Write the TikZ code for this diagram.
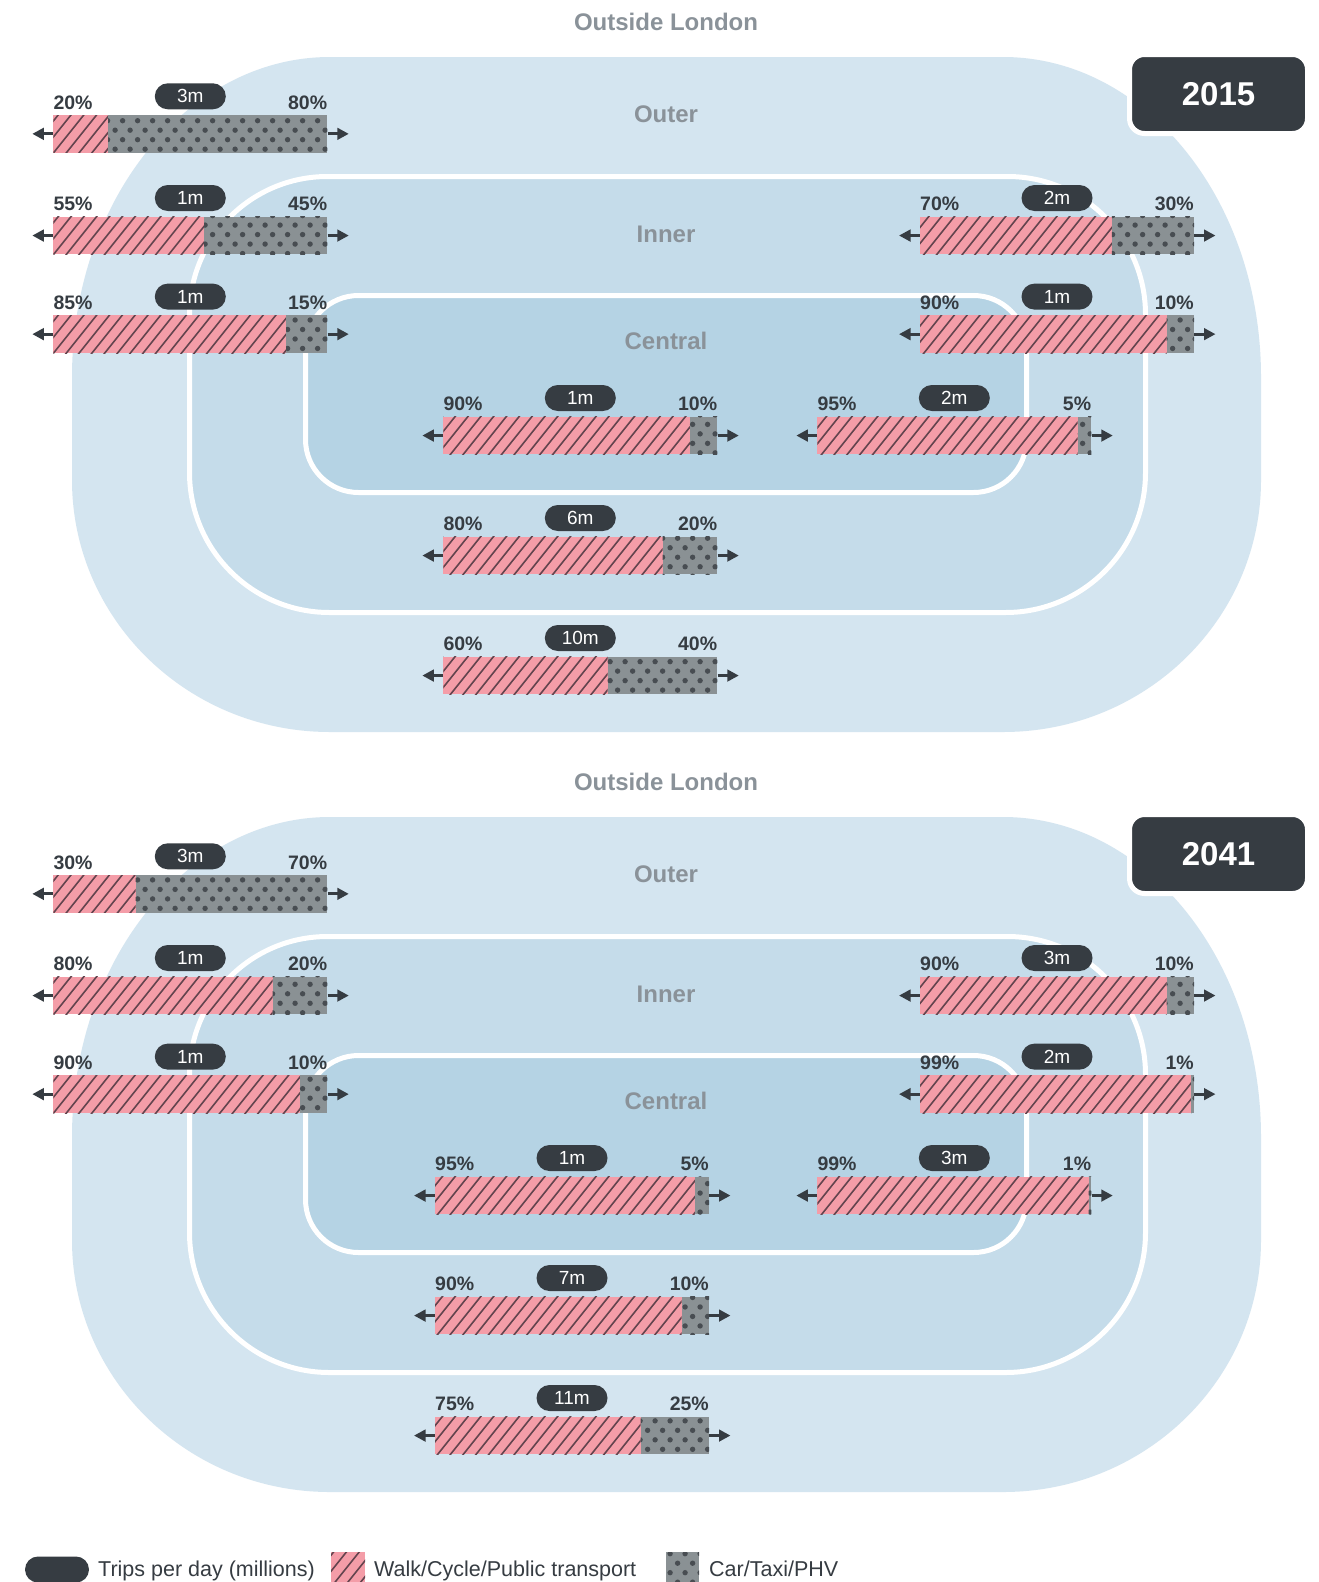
\documentclass[tikz,border=0pt]{standalone}
\usepackage{fontspec}
\setmainfont{Liberation Sans}
\usetikzlibrary{arrows.meta}
\definecolor{darkc}{RGB}{54,60,66}
\definecolor{pinkc}{RGB}{244,157,168}
\definecolor{hatchc}{RGB}{100,68,78}
\definecolor{grayc}{RGB}{138,145,148}
\definecolor{dotc}{RGB}{72,77,82}
\definecolor{outerc}{RGB}{212,229,240}
\definecolor{innerc}{RGB}{197,220,234}
\definecolor{centralc}{RGB}{181,211,228}
\definecolor{labelc}{RGB}{138,146,153}
\tikzset{
  hatchl/.style={draw=hatchc, line width=1.6pt},
  barbox/.style={draw=none, inner sep=0pt, minimum width=274pt, minimum height=37.7pt},
  flow/.style={draw=darkc, line width=3pt, -{Triangle[length=11.5pt,width=11.5pt]}},
  pill/.style={fill=darkc, text=white, rounded corners=13pt, minimum width=71pt, minimum height=26pt, inner sep=0pt, font=\fontsize{19}{22}\selectfont},
  pct/.style={text=darkc, inner sep=0pt, font=\fontsize{19.5}{22}\selectfont\bfseries},
  zonelbl/.style={text=labelc, inner sep=0pt, font=\fontsize{24}{28}\selectfont\bfseries},
  yearbox/.style={fill=darkc, draw=white, line width=5pt, rounded corners=15pt, minimum width=178pt, minimum height=79pt, text=white, inner sep=0pt, font=\fontsize{33}{38}\selectfont\bfseries},
  legendtxt/.style={text=darkc, inner sep=0pt, font=\fontsize{21.5}{25}\selectfont},
  zoneline/.style={draw=white, line width=5pt}
}
% rounded rectangle with elliptic corners: x1 y1 x2 y2 rxTop ryTop rxBot ryBot style
\newcommand\zonefill[9]{%
  \path[#9] (#1+#5,#2) -- (#3-#5,#2)
    .. controls (#3-0.4477*#5,#2) and (#3,#2+0.4477*#6) .. (#3,#2+#6)
    -- (#3,#4-#8)
    .. controls (#3,#4-0.4477*#8) and (#3-0.4477*#7,#4) .. (#3-#7,#4)
    -- (#1+#7,#4)
    .. controls (#1+0.4477*#7,#4) and (#1,#4-0.4477*#8) .. (#1,#4-#8)
    -- (#1,#2+#6)
    .. controls (#1,#2+0.4477*#6) and (#1+0.4477*#5,#2) .. (#1+#5,#2) -- cycle;}
\newcommand\walkfill[4]{%
  \fill[pinkc] (#1,#2) rectangle (#3,#4);
  \begin{scope}
    \clip (#1,#2) rectangle (#3,#4);
    \pgfmathtruncatemacro\hia{floor((#1-40)/12.8)}%
    \pgfmathtruncatemacro\hib{ceil(#3/12.8)+1}%
    \foreach \hi in {\hia,...,\hib}{
      \draw[hatchl] ({\hi*12.8},{#4+3}) -- ++(36,-45);
    }
  \end{scope}}
\newcommand\carfill[4]{%
  \fill[grayc] (#1,#2) rectangle (#3,#4);
  \begin{scope}
    \clip (#1,#2) rectangle (#3,#4);
    \pgfmathtruncatemacro\dka{floor(#1/15)-1}%
    \pgfmathtruncatemacro\dkb{ceil(#3/15)+1}%
    \pgfmathtruncatemacro\dra{floor((#2-120.7)/9.49)}%
    \pgfmathtruncatemacro\drb{ceil((#4-120.7)/9.49)}%
    \foreach \dr in {\dra,...,\drb}{
      \foreach \dk in {\dka,...,\dkb}{
        \fill[dotc] ({\dk*15+2.6+7.5*mod(\dr,2)},{120.7+9.49*\dr}) circle[radius=2.7];
      }
    }
  \end{scope}}
% name, x left, y top, left percent, pill text, left label, right label
\newcommand\tripbar[7]{%
  \pgfmathsetmacro\tba{#2}%
  \pgfmathsetmacro\tbm{#2+2.74*#4}%
  \pgfmathsetmacro\tbb{#2+274}%
  \pgfmathsetmacro\tbt{#3}%
  \pgfmathsetmacro\tbd{#3+37.7}%
  \pgfmathsetmacro\tbc{#2+137}%
  \pgfmathsetmacro\tbmid{#3+18.85}%
  \node[barbox] (#1) at (\tbc,\tbmid) {};
  \walkfill{\tba}{\tbt}{\tbm}{\tbd}
  \carfill{\tbm}{\tbt}{\tbb}{\tbd}
  \coordinate (#1-lt) at (\tba-21,\tbmid);
  \coordinate (#1-rt) at (\tbb+21.5,\tbmid);
  \draw[flow] (#1.west) -- (#1-lt);
  \draw[flow] (#1.east) -- (#1-rt);
  \node[pill] (#1-p) at (\tbc,\tbt-18.7) {#5};
  \node[pct, anchor=base west] (#1-a) at (\tba,\tbt-6) {#6};
  \node[pct, anchor=base east] (#1-b) at (\tbb,\tbt-6) {#7};
}
\newcommand\panel[2]{%
  \zonefill{72}{57+#1}{1261}{732+#1}{258}{320}{258}{252}{fill=outerc}
  \zonefill{189.5}{176.5+#1}{1145.5}{612.5+#1}{138}{138}{140}{140}{fill=innerc, zoneline}
  \zonefill{305.5}{295.5+#1}{1026.5}{492.5+#1}{53}{53}{53}{53}{fill=centralc, zoneline}
  \node[zonelbl] (title#2) at (666,22+#1) {Outside London};
  \node[zonelbl] (outer#2) at (666,114+#1) {Outer};
  \node[zonelbl] (inner#2) at (666,234+#1) {Inner};
  \node[zonelbl] (central#2) at (666,341+#1) {Central};
  \node[yearbox] (year#2) at (1218.5,94+#1) {#2};
}
\begin{document}
\begin{tikzpicture}[x=1pt,y=-1pt]
\useasboundingbox (0,0) rectangle (1319,1582);
\fill[white] (0,0) rectangle (1319,1582);
\panel{0}{2015}
\panel{760}{2041}
% 2015
\tripbar{a1}{53.3}{115}{20}{3m}{20\%}{80\%}
\tripbar{a2}{53.3}{216.7}{55}{1m}{55\%}{45\%}
\tripbar{a3}{920}{216.7}{70}{2m}{70\%}{30\%}
\tripbar{a4}{53.3}{315.3}{85}{1m}{85\%}{15\%}
\tripbar{a5}{920}{315.3}{90}{1m}{90\%}{10\%}
\tripbar{a6}{443.3}{416.7}{90}{1m}{90\%}{10\%}
\tripbar{a7}{817.3}{416.7}{95}{2m}{95\%}{5\%}
\tripbar{a8}{443.3}{536.7}{80}{6m}{80\%}{20\%}
\tripbar{a9}{443.3}{656.7}{60}{10m}{60\%}{40\%}
% 2041
\tripbar{b1}{53.3}{875}{30}{3m}{30\%}{70\%}
\tripbar{b2}{53.3}{976.7}{80}{1m}{80\%}{20\%}
\tripbar{b3}{920}{976.7}{90}{3m}{90\%}{10\%}
\tripbar{b4}{53.3}{1075.3}{90}{1m}{90\%}{10\%}
\tripbar{b5}{920}{1075.3}{99}{2m}{99\%}{1\%}
\tripbar{b6}{435}{1176.7}{95}{1m}{95\%}{5\%}
\tripbar{b7}{817.3}{1176.7}{99}{3m}{99\%}{1\%}
\tripbar{b8}{435}{1296.7}{90}{7m}{90\%}{10\%}
\tripbar{b9}{435}{1416.7}{75}{11m}{75\%}{25\%}
% legend
\node[pill, minimum width=64pt] (legpill) at (57,1569.5) {};
\node[legendtxt, anchor=base west] (legtrips) at (98,1576) {Trips per day (millions)};
\walkfill{331}{1552}{365}{1582}
\node[legendtxt, anchor=base west] (legwalk) at (374,1576) {Walk/Cycle/Public transport};
\carfill{666}{1552}{699}{1582}
\node[legendtxt, anchor=base west] (legcar) at (709,1576) {Car/Taxi/PHV};
\end{tikzpicture}
\end{document}
